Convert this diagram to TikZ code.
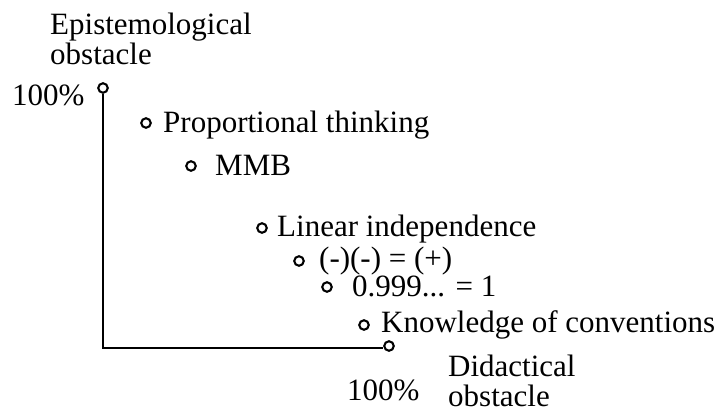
\documentclass[tikz,border=0pt]{standalone}
\usepackage{fontspec}
\setmainfont{Liberation Serif}

\begin{document}
\begin{tikzpicture}[x=1pt,y=-1pt,every node/.style={inner sep=0pt,font=\fontsize{31}{30}\selectfont}, ring/.style={circle,draw,line width=2.1pt,minimum size=9.5pt}]
	\useasboundingbox(0,0)rectangle(728,412);
	\node(e)at(50,64)[anchor=base west,align=left]{Epistemological\\obstacle};
	\node(y)at(12,105)[anchor=base west]{100\%};
	\node(ey)at(103,88)[ring]{};
	\coordinate(o)at(103,348);
	\node(dx)at(389,346)[ring]{};
	\node(x)at(347,400)[anchor=base west]{100\%};
	\node(d)at(448,406)[anchor=base west,align=left]{Didactical\\obstacle};
	\draw[line width=2.1pt](ey)--(o)--(dx.west|-o);
	\node(a)at(146,123)[ring]{};
	\node(a1)at(163,132)[anchor=base west]{Proportional thinking};
	\node(b)at(191,166)[ring]{};
	\node(b1)at(215,175)[anchor=base west]{MMB};
	\node(c)at(262,228)[ring]{};
	\node(c1)at(277,236)[anchor=base west]{Linear independence};
	\node(f)at(299,261)[ring]{};
	\node(f1)at(319,268)[anchor=base west]{(-)(-) = (+)};
	\node(g)at(327,287)[ring]{};
	\node(g1)at(352,296)[anchor=base west]{0.999... = 1};
	\node(h)at(364,325)[ring]{};
	\node(h1)at(381,332)[anchor=base west]{Knowledge of conventions};
\end{tikzpicture}
\end{document}
